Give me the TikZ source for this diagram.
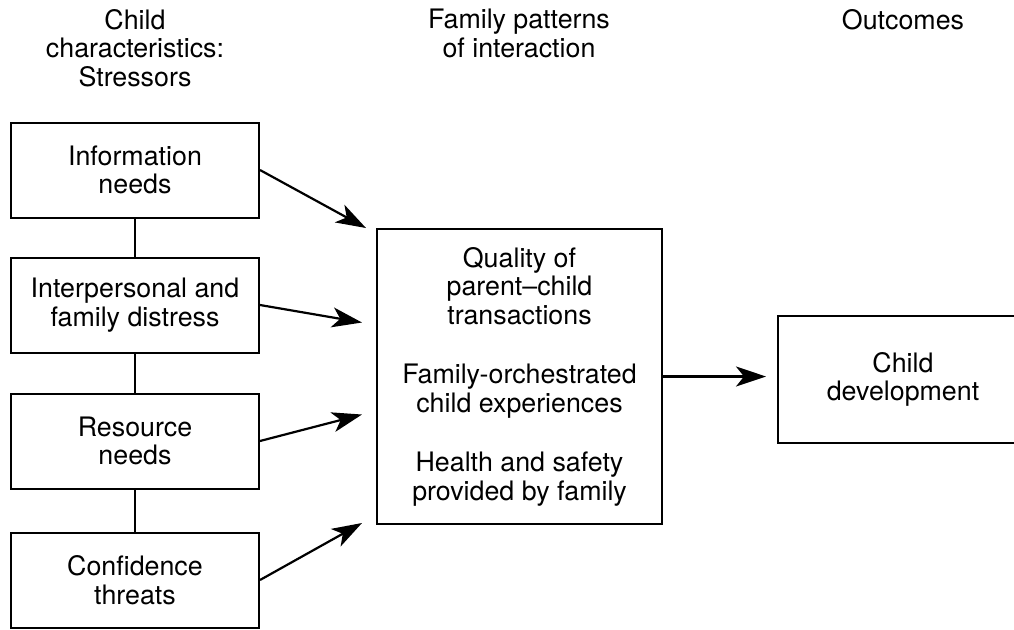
\documentclass[tikz,border=0pt]{standalone}
\usepackage{fontspec}
\setmainfont{TeX Gyre Heros}
\usetikzlibrary{arrows.meta, positioning}

\begin{document}
\begin{tikzpicture}[x=0.5pt, y=-0.5pt,
        every node/.style={font=\fontsize{13.4}{14.25}\selectfont, align=center},
        stressor/.style={draw, line width=1pt, minimum width=124pt, minimum height=47.5pt, inner sep=0pt},
        heading/.style={anchor=north, inner sep=0pt},
        flow/.style={->, >={Stealth[length=15pt, width=10pt, inset=4pt]}, line width=1.1pt}]
        \useasboundingbox (0,0) rectangle (1014,629);
        % Column headings
        \node[heading] (hchild) at (135,9) {Child\\characteristics:\\Stressors};
        \node[heading] (hfamily) at (519,9) {Family patterns\\of interaction};
        \node[heading] (hout) at (903,9) {Outcomes};
        % Stressors
        \node[stressor] (info) at (135,170) {Information\\needs};
        \node[stressor] (distress) at (135,305) {Interpersonal and\\family distress};
        \node[stressor] (resource) at (135,441) {Resource\\needs};
        \node[stressor] (confid) at (135,580) {Confidence\\threats};
        \draw[line width=1pt] (info) -- (distress) (distress) -- (resource) (resource) -- (confid);
        % Family patterns
        \node[draw, line width=1pt, minimum width=142.5pt, minimum height=147.5pt, inner sep=0pt] (fam) at (519.5,376.5)
            {Quality of\\parent--child\\transactions\\[15.5pt]Family-orchestrated\\child experiences\\[15.5pt]Health and safety\\provided by family};
        % Outcome
        \node[draw, line width=1pt, minimum width=125pt, minimum height=63.5pt, inner sep=0pt] (dev) at (903,379.5) {Child\\development};
        % Arrows into family box
        \draw[flow] (info.east) -- ([xshift=-5pt]fam.north west);
        \draw[flow] (distress.east) -- ([xshift=-7pt, yshift=27pt]fam.west);
        \draw[flow] (resource.east) -- ([xshift=-7pt, yshift=-19pt]fam.west);
        \draw[flow] (confid.east) -- ([xshift=-7pt, yshift=1pt]fam.south west);
        % Arrow to outcome
        \draw[flow, shorten >=5.5pt] (fam.east) -- (fam.east -| dev.west);
    \end{tikzpicture}
\end{document}
